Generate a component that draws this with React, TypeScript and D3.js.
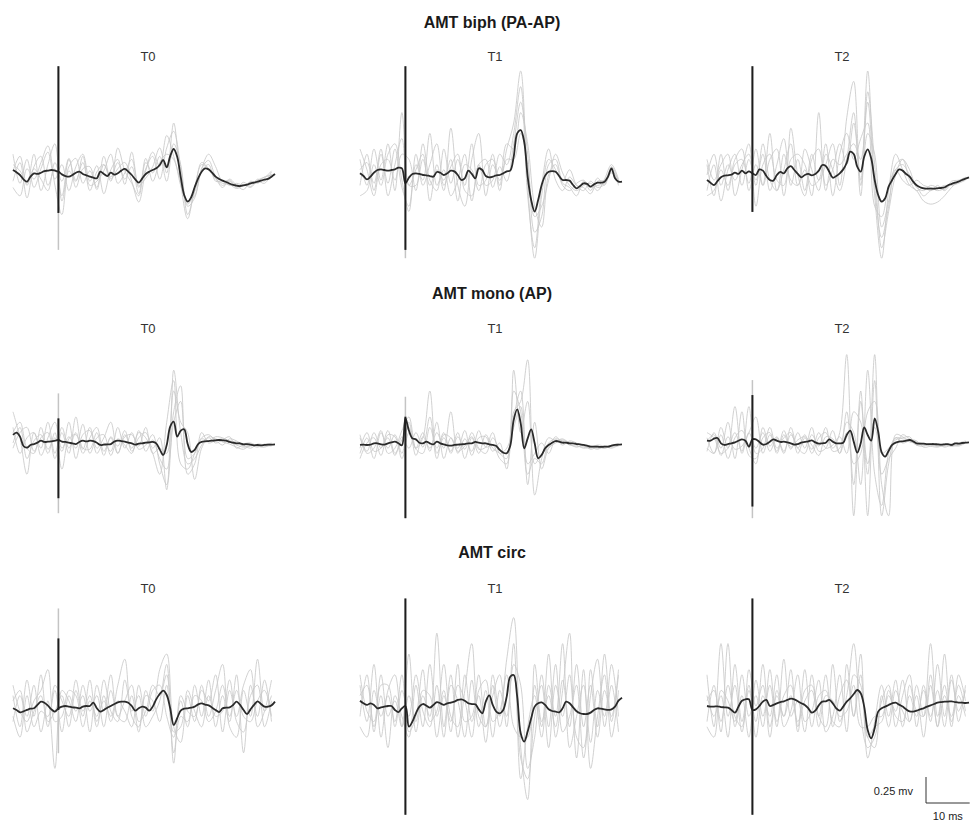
import React from "react";
import * as d3 from "d3";

// ---------- DATA ----------
const conditions = ["AMT biph (PA-AP)", "AMT mono (AP)", "AMT circ"];
const sessions = ["T0", "T1", "T2"];
const scaleBarLabels = ["0.25 mv", "10 ms"];
const scaleBarMs = 10;
const scaleBarUv = 250;

// sample grids (ms): mean traces every 0.8 ms, single trials every 1.6 ms
const times = d3.range(76).map((i) => (i - 13) * 0.8);
const trialTimes = d3.range(38).map((k) => (2 * k - 13) * 0.8);

// mean MEP traces (µV)
const biphT0 = [48,26,0,-42,-64,-16,16,10,22,38,42,48,42,32,6,-10,-16,0,22,32,10,-3,-16,-26,-32,32,10,-10,22,3,16,42,58,32,0,-42,-74,-32,10,32,48,64,96,144,74,182,250,176,-16,-192,-256,-214,-118,-32,32,64,54,22,-16,-38,-54,-67,-83,-96,-102,-106,-99,-93,-80,-74,-64,-54,-45,-38,-16,10];
const biphT1 = [16,-10,-42,-16,22,48,54,48,42,48,54,70,64,-80,-26,10,16,10,0,-3,-10,-16,29,22,0,16,42,35,0,-48,-32,42,10,-32,64,48,-10,-22,-16,-3,0,16,35,42,176,400,432,320,-16,-240,-352,-240,-96,-6,32,38,32,-10,-48,-48,-54,-96,-128,-106,-80,-86,-112,-90,-74,-74,-64,-16,64,-32,-64,-64];
const biphT2 = [-48,-74,-96,-58,-22,-6,-3,3,22,10,42,16,35,16,0,54,42,-10,-48,-54,0,29,16,64,86,48,10,-22,0,10,-3,10,42,96,86,32,-26,-10,16,54,118,224,202,80,32,176,246,160,-48,-192,-256,-224,-112,-48,10,54,42,10,-16,-64,-99,-118,-128,-131,-131,-131,-128,-125,-118,-99,-86,-74,-64,-48,-35,-22];
const monoT0 = [77,99,61,-29,-45,-19,-10,3,22,10,13,16,22,29,13,10,3,-3,-10,10,22,16,22,19,3,-19,-16,-13,-10,13,22,19,13,3,-3,-16,-6,-3,3,6,10,-3,-61,-115,-19,157,205,61,118,131,-10,-86,-67,-10,10,16,19,22,26,29,26,22,10,3,-3,-3,-13,-10,-16,-22,-19,-22,-19,-16,-16,-13];
const monoT1 = [-19,-16,-19,-16,-3,-3,-13,-16,-3,6,13,-3,-22,240,120,45,35,3,-3,13,-3,-13,13,-3,-13,-22,-26,-19,-16,-13,-10,-3,-3,10,3,-3,-3,-13,-19,-29,-67,-93,-99,-29,221,323,189,-51,45,131,-3,-147,-115,-51,-19,3,19,13,3,3,-3,-3,-10,-13,-19,-26,-35,-35,-35,-38,-35,-35,-26,-19,-16,-13];
const monoT2 = [22,22,42,48,-3,-19,-10,-3,6,22,35,22,-35,35,35,10,-16,-10,13,35,22,10,13,6,-3,-16,-10,3,10,16,26,6,-6,-3,3,35,13,-3,-3,3,77,118,13,-93,-3,150,77,22,237,110,-90,-131,-74,-19,3,13,16,22,29,16,-3,-6,-6,-10,-10,-10,-13,-16,-13,-10,-19,-3,-6,0,3,6];
const circT0 = [-22,-38,-61,-51,-38,-26,-22,10,42,32,3,-32,-54,-22,-6,0,-6,-13,-16,-22,-6,0,0,32,-22,-54,-38,-16,0,19,35,42,42,32,0,-45,-22,-6,-16,-45,-6,64,115,147,106,-22,-182,-118,-45,-26,-22,-16,-6,16,26,13,6,-16,-38,-58,-22,-16,-13,10,42,10,-38,-77,-32,10,45,19,-6,-6,6,42];
const circT1 = [51,26,10,26,10,-22,-13,-6,0,0,-38,-58,-22,0,-198,-150,-70,-6,19,3,-16,10,38,26,10,26,32,42,58,64,51,26,19,16,-32,-70,42,102,10,-54,-70,-38,90,282,298,90,-262,-342,-246,-118,-6,26,35,10,-32,-48,-54,-61,-22,42,26,-13,-51,-70,-77,-77,-64,-38,-22,-26,-32,-38,-32,-6,51,80];
const circT2 = [0,-6,-6,-3,-10,-13,-16,-38,-64,-6,51,64,64,-38,-32,0,42,58,0,10,26,38,45,58,70,64,45,26,10,-22,-64,-45,6,42,45,58,26,-22,-45,-6,42,74,115,154,122,-6,-230,-310,-214,-54,-22,-6,10,26,32,13,-6,-32,-51,-54,-45,-32,-22,-6,6,19,32,38,42,42,45,38,32,32,29,32];

// single trials (µV)
const biphT0Trials = [
  [200,-80,150,-120,60,220,-40,100,-150,80,200,-60,90,-180,50,150,-90,220,-120,60,180,-40,260,420,80,-300,-220,60,140,-20,-100,-60,-120,-70,-110,-40,-60,30],
  [-60,120,-220,80,180,-100,60,-200,150,-50,120,-150,30,100,-60,260,40,-80,-200,120,20,180,-60,300,100,-380,-150,120,60,-40,-80,-90,-130,-100,-70,-60,-20,0],
  [100,40,-80,200,-150,100,300,-250,80,160,-80,40,-120,180,-40,60,120,-60,-260,40,220,80,380,180,-60,-250,-200,60,200,80,-60,-50,-110,-90,-120,-60,-80,10],
  [-120,-200,60,-40,120,280,-100,-380,40,-60,180,-100,-60,40,200,-80,20,150,-100,-30,80,260,20,500,-80,-420,-120,100,60,-30,-120,-40,-100,-140,-60,-80,-30,40],
  [40,180,-100,60,-40,-150,120,-60,160,-120,60,80,-140,100,-20,120,-40,80,-180,160,-60,120,200,150,-100,-280,-160,40,100,-60,-60,-100,-80,-100,-90,-50,-20,0],
];
const biphT1Trials = [
  [150,-100,250,-50,300,-150,600,-100,50,200,-250,100,-150,450,-100,-300,150,400,-200,100,-50,250,500,1000,-100,-800,-200,150,50,-80,-120,-200,-60,-150,-30,-100,80,-60],
  [-100,200,-150,200,-80,250,-120,-300,200,-100,100,300,-100,80,200,-150,-200,100,150,-120,80,-60,300,700,200,-550,-400,100,150,-60,50,-100,-150,-60,-120,-90,20,-80],
  [250,50,-200,100,150,-50,200,150,-150,300,-50,-150,250,-80,150,-100,300,-100,-50,200,-150,150,150,400,100,-400,-300,-50,200,20,-100,-150,-100,-80,-150,-40,100,-40],
  [-200,-150,100,-100,200,300,-50,-350,100,-50,400,-100,50,-200,-50,200,-250,100,-100,-50,200,100,400,850,-200,-700,-100,250,-50,-150,-20,-100,-120,-180,-60,-50,60,-100],
  [50,120,-80,250,-200,100,350,-100,-100,150,-100,50,-50,150,-250,100,50,-150,100,150,-100,300,250,600,300,-300,-500,0,100,-100,-150,-80,-50,-120,-100,-80,40,-50],
];
const biphT2Trials = [
  [100,-200,200,-150,100,150,-80,250,-100,400,-150,50,300,-100,50,-200,600,-100,50,300,100,500,-50,1000,-100,-600,-300,100,150,-50,-150,-120,-150,-100,-150,-80,-60,-30],
  [-150,100,-250,50,200,-100,150,-50,200,-150,100,350,-100,150,-150,200,-50,100,300,-100,550,900,-100,400,200,-500,-250,50,100,0,-100,-200,-150,-130,-100,-100,-80,-50],
  [150,-50,100,200,-200,50,300,-300,100,200,-50,-100,450,0,-200,150,250,-150,150,100,200,300,150,700,-200,-800,-150,200,50,-100,-150,-250,-280,-260,-200,-120,-60,-20],
  [-200,-150,50,-100,150,250,-150,100,-100,150,250,-200,150,200,100,-100,-50,300,-200,200,400,150,350,500,-300,-400,-100,50,-50,-100,-50,-100,-120,-150,-130,-90,-70,-40],
  [0,200,-100,100,-50,100,200,-100,300,-50,-150,200,-50,-100,250,50,-150,200,50,-150,150,600,-200,800,100,-700,-350,0,150,50,-120,-150,-100,-120,-140,-60,-50,-30],
];
const monoT0Trials = [
  [300,50,-300,100,-50,200,-100,150,-50,100,-100,50,150,-80,50,-100,80,-50,100,50,-100,-300,200,600,-200,-250,-100,50,80,30,40,10,-20,-40,-30,-20,-30,-20],
  [100,200,-50,-100,150,-60,50,-80,200,-150,80,120,-100,0,-80,150,-50,100,-60,-20,80,-200,-400,300,550,-150,-100,40,20,60,50,20,10,-30,-20,-40,-10,-20],
  [-50,100,150,-80,50,100,-150,100,-100,250,-50,-60,100,-120,60,-30,120,-80,50,100,-50,50,-450,500,200,100,-350,-50,50,0,30,60,-50,-10,0,-30,-40,-10],
  [150,-100,50,100,-120,50,200,-50,60,-50,180,-100,50,80,-120,40,-20,-100,120,-80,30,-150,-250,200,400,-300,-200,100,0,20,-20,40,20,-20,-50,-10,-20,-30],
  [0,150,-150,20,80,-100,100,-250,40,80,-60,150,-50,50,200,-100,60,80,-30,150,-100,-50,-100,700,100,-200,-150,-20,60,40,10,-10,-40,-60,-20,-30,-20,0],
];
const monoT1Trials = [
  [-100,50,-150,100,-50,80,-100,200,-50,50,500,-100,50,-80,100,-150,50,-100,80,-50,-100,-150,500,300,-300,-150,-200,0,40,20,-20,-30,-40,-50,-30,-50,-20,-10],
  [50,-80,100,-50,120,-100,30,150,-120,60,-50,100,-50,300,-100,40,-80,120,-40,-20,-150,-200,700,100,400,-200,-100,-50,60,0,10,-20,-50,-40,-60,-30,-40,-20],
  [-150,0,50,-120,80,60,-150,100,-60,-100,150,-50,100,-100,60,-60,100,-50,-100,50,-60,-100,250,500,-400,200,-250,-50,0,30,-10,-40,-20,-60,-40,-50,-30,-30],
  [80,-100,-50,120,-100,-50,120,250,-50,100,-80,200,-150,50,-50,120,-120,50,60,-80,0,-250,300,400,800,-500,-150,50,20,40,0,-10,-20,-30,-50,-40,-30,-10],
  [-50,100,-80,-50,50,-120,60,-50,100,-40,250,-150,80,50,-80,-30,60,-60,-40,100,-100,-50,150,350,-200,-100,0,-100,30,-20,20,0,-30,-40,-20,-30,-50,-20],
];
const monoT2Trials = [
  [50,-100,150,-50,350,-100,100,-50,100,-80,50,-100,150,-50,80,-100,50,100,-50,100,850,-700,400,-200,150,-100,-50,30,50,60,-20,-30,-10,-20,-30,-10,0,20],
  [-80,100,-50,200,-150,300,-120,-150,50,100,-100,80,-60,100,-50,150,-80,-50,120,-100,200,100,-400,700,-300,-600,-100,50,0,20,10,-10,-30,-40,-20,-30,-10,0],
  [100,50,-100,-50,100,-80,350,-100,-50,150,-50,50,100,-100,50,-60,100,-50,-20,60,-100,300,200,-300,850,-700,-200,50,40,30,-20,-10,-20,-30,-20,-10,-20,10],
  [-50,-100,80,-150,50,120,-50,-200,150,-30,60,-80,80,-50,-100,80,-30,150,-80,-50,300,-400,500,-700,600,-300,-150,-50,80,40,20,-40,-30,-10,-40,-20,-30,0],
  [20,80,-120,60,-60,-30,100,250,-100,80,-80,120,-40,30,60,-20,-120,60,40,-100,100,-200,-100,300,400,-400,-700,80,60,10,0,-20,-10,-30,-10,-30,-20,10],
];
const circT0Trials = [
  [100,-200,250,-100,300,-150,-50,100,-200,150,-100,250,-150,50,-100,200,450,-100,-200,150,-50,350,500,-200,-350,100,-150,200,-100,150,400,-200,-300,150,-100,450,-50,100],
  [-150,100,-100,200,-250,50,-600,150,50,-150,200,-50,100,-200,150,-100,50,200,-150,-50,200,100,300,-450,-100,-150,200,-100,250,-200,100,-150,300,-450,200,-100,250,-150],
  [200,-50,-150,50,150,350,-150,-100,150,100,-200,50,-100,250,-50,-150,250,-50,100,-200,-100,50,400,-550,100,-50,-100,150,50,300,-250,150,-100,200,350,-200,-50,250],
  [-100,-300,100,-200,-50,-100,150,-250,100,-50,100,-250,200,-50,300,-100,-150,100,-250,100,50,-150,200,-250,-200,150,-50,-200,100,-100,-50,250,-150,-250,100,200,-200,50],
  [50,150,-250,-50,100,-200,200,50,-100,250,-50,100,-200,100,-150,50,-50,-200,200,-100,150,200,-100,-300,50,-200,100,50,-150,-50,200,-100,150,-100,-150,50,150,-100],
];
const circT1Trials = [
  [200,-150,400,-300,150,300,-200,500,-250,100,-100,700,-200,300,-300,150,600,-100,-200,300,-100,450,850,-400,-900,200,-200,500,-300,150,700,-300,-400,350,-200,500,-150,300],
  [-100,300,-200,100,-400,100,-100,-300,200,-200,400,-100,150,-250,400,-150,-100,300,-200,100,300,-200,400,200,-600,-300,300,-200,400,-250,-100,200,-500,100,450,-200,200,-250],
  [300,-50,-150,200,200,-200,150,-100,300,-50,-200,200,-300,200,50,-300,250,-200,150,-300,150,-100,600,-700,-200,100,-300,200,-100,600,-400,-100,200,-350,150,-100,400,-100],
  [-200,-300,150,-100,100,-150,300,-250,-100,350,-150,-50,400,-100,-200,300,-150,100,-350,200,-200,100,300,-500,-700,-100,200,-400,200,-100,300,-500,350,-600,-100,300,-300,150],
  [100,200,-250,300,-100,50,-200,100,-150,150,100,-300,100,-150,200,50,-300,150,250,-150,-50,300,-200,-300,-300,400,-150,100,-200,250,-200,400,-200,200,-300,150,-100,350],
];
const circT2Trials = [
  [300,-200,600,-100,200,-250,150,-150,400,-200,100,-100,350,-250,150,200,-100,300,-200,100,250,-100,500,-300,-400,100,-200,150,-50,-150,200,-100,600,-100,200,-200,300,50],
  [-150,200,-250,600,-200,100,-300,250,-100,200,-200,450,-100,50,-250,300,-100,-200,400,-150,100,600,-100,-400,-300,50,200,-200,100,300,-200,200,-150,400,-100,300,-150,200],
  [100,-100,100,-300,400,-150,200,-300,100,-100,300,-200,-50,300,-150,-50,250,-250,-100,300,-250,300,200,-300,-200,-150,100,-50,250,-150,100,-300,200,-200,500,-150,100,-100],
  [-200,-300,150,50,-150,300,-100,100,-200,350,-150,100,200,-200,350,-200,100,150,-150,-200,400,-100,300,-500,-150,200,-100,250,-200,100,-100,150,-100,150,-200,250,-50,150],
  [50,150,-150,200,-100,-200,350,0,200,-300,150,-100,100,-150,50,150,-200,100,50,-100,-50,200,-200,-200,-100,-100,150,-100,-150,200,-50,-100,300,-200,100,-100,200,-50],
];

// stimulus artifact extent at t = 0 (µV): [row][col]
const artifactTop = [[1046, 1046, 1046], [237, 253, 461], [650, 1034, 1034]];
const artifactBottom = [[-365, -720, -355], [-531, -723, -611], [-38, -1046, -1046]];
const artifactFaintTop = [[1046, 1046, 1046], [477, 445, 605], [938, 1034, 1034]];
const artifactFaintBottom = [[-720, -800, -355], [-675, -723, -723], [-454, -1046, -1046]];

const means = [
  [biphT0, biphT1, biphT2],
  [monoT0, monoT1, monoT2],
  [circT0, circT1, circT2],
];
const trials = [
  [biphT0Trials, biphT1Trials, biphT2Trials],
  [monoT0Trials, monoT1Trials, monoT2Trials],
  [circT0Trials, circT1Trials, circT2Trials],
];

// ---------- LAYOUT ----------
const W = 971;
const H = 821;
const colX = [13, 360, 707];
const panelW = 262;
const rowBase = [175, 443, 706];
const titleY = [28, 299, 558];
const subY = [61, 333, 593];
const pxPerUv = 0.104;
const FONT = "'Liberation Sans', Arial, Helvetica, sans-serif";

export default function App() {
  const panels: React.ReactNode[] = [];
  for (let r = 0; r < 3; r++) {
    for (let c = 0; c < 3; c++) {
      const x = d3
        .scaleLinear()
        .domain([times[0], times[times.length - 1]])
        .range([colX[c], colX[c] + panelW]);
      const y = d3
        .scaleLinear()
        .domain([0, 1000])
        .range([rowBase[r], rowBase[r] - 1000 * pxPerUv]);
      const meanLine = d3
        .line<number>()
        .x((_, i) => x(times[i]))
        .y((v) => y(v))
        .curve(d3.curveCatmullRom.alpha(0.5));
      const trialLine = d3
        .line<number>()
        .x((_, i) => x(trialTimes[i]))
        .y((v) => y(v))
        .curve(d3.curveCatmullRom.alpha(0.5));
      panels.push(
        <g key={`p${r}${c}`}>
          {trials[r][c].map((tr, k) => (
            <path
              key={k}
              d={trialLine(tr) || ""}
              fill="none"
              stroke="#c9c9c9"
              strokeOpacity={0.85}
              strokeWidth={1}
            />
          ))}
          <line
            x1={x(0)}
            x2={x(0)}
            y1={y(artifactFaintTop[r][c])}
            y2={y(artifactFaintBottom[r][c])}
            stroke="#c4c4c4"
            strokeWidth={1.5}
          />
          <path
            d={meanLine(means[r][c]) || ""}
            fill="none"
            stroke="#2a2a2a"
            strokeWidth={1.8}
            strokeLinejoin="round"
          />
          <line
            x1={x(0)}
            x2={x(0)}
            y1={y(artifactTop[r][c])}
            y2={y(artifactBottom[r][c])}
            stroke="#1e1e1e"
            strokeWidth={2}
          />
          <text
            x={(colX[c] + panelW / 2) + 4}
            y={subY[r]}
            textAnchor="middle"
            fontFamily={FONT}
            fontSize={13}
            fill="#333"
          >
            {sessions[c]}
          </text>
        </g>
      );
    }
  }

  // scale bar, using the same scales as the panels
  const sx = d3.scaleLinear().domain([times[0], times[times.length - 1]]).range([0, panelW]);
  const barLenX = sx(scaleBarMs) - sx(0);
  const barLenY = scaleBarUv * pxPerUv;
  const barX = 926;
  const barY = 803;

  return (
    <div style={{ position: "absolute", left: 0, top: 0 }}>
      <svg width={W} height={H} style={{ display: "block", background: "#ffffff" }}>
        <rect x={0} y={0} width={W} height={H} fill="#ffffff" />
        {conditions.map((t, r) => (
          <text
            key={t}
            x={492}
            y={titleY[r]}
            textAnchor="middle"
            fontFamily={FONT}
            fontWeight="bold"
            fontSize={16}
            fill="#1a1a1a"
          >
            {t}
          </text>
        ))}
        {panels}
        <g>
          <line x1={barX} x2={barX} y1={barY} y2={barY - barLenY} stroke="#333" strokeWidth={1} />
          <line x1={barX} x2={barX + barLenX} y1={barY} y2={barY} stroke="#333" strokeWidth={1} />
          <text
            x={barX - 13}
            y={barY - barLenY / 2 + 5}
            textAnchor="end"
            fontFamily={FONT}
            fontSize={11}
            fill="#222"
          >
            {scaleBarLabels[0]}
          </text>
          <text
            x={barX + barLenX / 2}
            y={820}
            textAnchor="middle"
            fontFamily={FONT}
            fontSize={11}
            fill="#222"
          >
            {scaleBarLabels[1]}
          </text>
        </g>
      </svg>
    </div>
  );
}
